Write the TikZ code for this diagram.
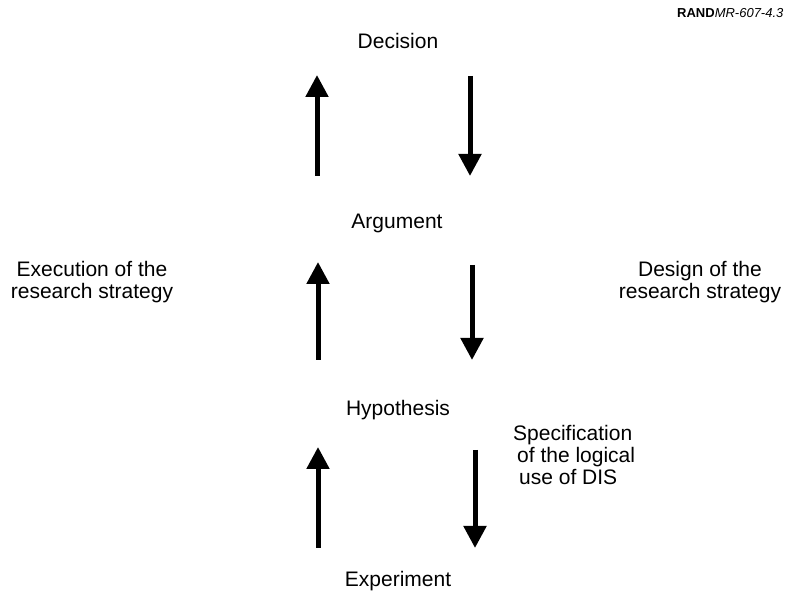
\documentclass[tikz,border=0pt]{standalone}
\usepackage{fontspec}
\setmainfont{Liberation Sans}
\usetikzlibrary{arrows.meta}

\begin{document}
\begin{tikzpicture}[x=1pt,y=1pt,
    flow/.style={line width=5pt,-{Triangle[length=22pt,width=22pt]}}]

      \useasboundingbox (0,0) rectangle (785,600);

      \begin{scope}[every node/.style={anchor=base,font=\fontsize{21}{22}\selectfont}]
        \node (dec) at (398,551) {Decision};
        \node (arg) at (397,371) {Argument};
        \node (hyp) at (398,184) {Hypothesis};
        \node (exp) at (398,13)  {Experiment};
      \end{scope}

      \begin{scope}[every node/.style={font=\fontsize{21}{22}\selectfont}]
        \node[align=center] (exec) at (92,318)  {Execution of the\\research strategy};
        \node[align=center] (dsgn) at (700,318) {Design of the\\research strategy};
        \node[align=left,anchor=north west,inner sep=0pt] (spec) at (513,175)
          {Specification\\\hspace*{4pt}of the logical\\\hspace*{6pt}use of DIS};
      \end{scope}

      \node[anchor=base west,inner sep=0pt,font=\fontsize{13}{13}\selectfont] (tag) at (677,582)
        {\textbf{RAND}\textit{MR-607-4.3}};

      % arrow ends
      \coordinate (u1a) at (317,424);
      \coordinate (u1b) at (317,525);
      \coordinate (d1a) at (470,524);
      \coordinate (d1b) at (470,424);
      \coordinate (u2a) at (318,240);
      \coordinate (u2b) at (318,338);
      \coordinate (d2a) at (472,335);
      \coordinate (d2b) at (472,240);
      \coordinate (u3a) at (318,52);
      \coordinate (u3b) at (318,153);
      \coordinate (d3a) at (475,150);
      \coordinate (d3b) at (475,52);

      \draw[flow] (u1a) -- (u1b);
      \draw[flow] (d1a) -- (d1b);
      \draw[flow] (u2a) -- (u2b);
      \draw[flow] (d2a) -- (d2b);
      \draw[flow] (u3a) -- (u3b);
      \draw[flow] (d3a) -- (d3b);

    \end{tikzpicture}
\end{document}
